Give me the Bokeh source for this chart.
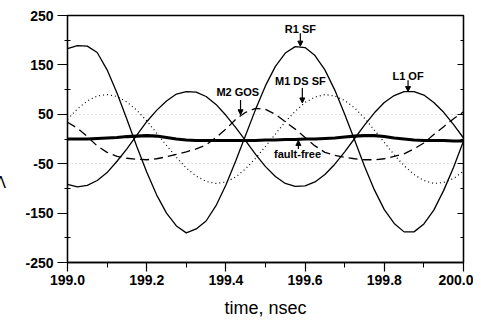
from bokeh.plotting import figure
from bokeh.layouts import row
from bokeh.models import (FixedTicker, Label, Arrow, NormalHead, LinearAxis, Range1d, Div,
                          NumeralTickFormatter, CustomJSTickFormatter, ColumnDataSource)
from bokeh.embed import file_html
from bokeh.resources import INLINE

# ---- data ----
time_ns = [199.000, 199.025, 199.050, 199.075, 199.100, 199.125, 199.150, 199.175, 199.200, 199.225,
           199.250, 199.275, 199.300, 199.325, 199.350, 199.375, 199.400, 199.425, 199.450, 199.475,
           199.500, 199.525, 199.550, 199.575, 199.600, 199.625, 199.650, 199.675, 199.700, 199.725,
           199.750, 199.775, 199.800, 199.825, 199.850, 199.875, 199.900, 199.925, 199.950, 199.975,
           200.000]

r1_sf = [183, 189, 188, 175, 140, 93, 40, -15, -67, -113,
         -150, -176, -190, -182, -166, -135, -93, -44, 8, 60,
         108, 147, 174, 187, 185, 169, 140, 99, 50, -2,
         -55, -103, -143, -171, -188, -188, -172, -144, -104, -57,
         -4]

l1_of = [-92, -97, -94, -84, -68, -45, -20, 8, 35, 58,
         77, 91, 96, 95, 86, 70, 48, 23, -4, -31,
         -56, -76, -90, -96, -95, -87, -72, -51, -26, 1,
         28, 53, 74, 88, 96, 96, 89, 74, 54, 29,
         2]

m1_ds_sf = [40, 61, 77, 87, 90, 86, 75, 58, 37, 12,
            -13, -37, -59, -75, -86, -90, -87, -77, -60, -39,
            -15, 10, 35, 56, 74, 85, 90, 87, 78, 63,
            42, 18, -7, -32, -54, -72, -84, -90, -88, -80,
            -65]

m2_gos = [34, 22, 5, -14, -27, -35, -39, -41, -42, -40,
          -36, -31, -26, -20, -12, 3, 20, 40, 54, 62,
          60, 50, 35, 20, 3, -14, -27, -33, -37, -40,
          -42, -42, -40, -35, -30, -20, -8, 9, 25, 41,
          55]

fault_free = [0, 0, 0, 1, 2, 3, 5, 6, 7, 6,
              3, 0, -2, -3, -3, -3, -3, -3, -3, -3,
              -2, -2, -1, -1, 0, 0, 1, 2, 4, 6,
              7, 7, 5, 2, 0, -2, -3, -3, -3, -4,
              -4]

x_major_ticks = [199.0, 199.2, 199.4, 199.6, 199.8, 200.0]
x_minor_ticks = [199.1, 199.3, 199.5, 199.7, 199.9]
y_major_ticks = [250, 150, 50, -50, -150, -250]
y_minor_ticks = [200, 100, 0, -100, -200]
grid_ticks = [50, -50]

x_title = "time, nsec"
y_title_main, y_title_sub, y_title_unit = "V", "test1(out)", "[mV]"

annotation_texts = ["R1 SF", "M2 GOS", "M1 DS SF", "L1 OF", "fault-free"]
# (text x, text y, arrow x, arrow y start, arrow y end) in data units
annotation_places = [
    (199.588, 222, 199.588, 214, 188),
    (199.430, 95, 199.437, 79, 49),
    (199.588, 118, 199.593, 103, 73),
    (199.860, 127, 199.860, 119, 96),
    (199.581, -30, 199.583, -20, -3),
]

FONT = "Liberation Sans"
H = 322
STRIP_W = 22

src = ColumnDataSource(dict(t=time_ns, r1=r1_sf, l1=l1_of, m1=m1_ds_sf, m2=m2_gos, ff=fault_free))

p = figure(width=473 - STRIP_W, height=H, output_backend="svg", toolbar_location=None,
           x_range=Range1d(199.0, 200.0), y_range=Range1d(-250, 250),
           min_border_left=67 - STRIP_W, min_border_right=10, min_border_top=15,
           min_border_bottom=H - 262)
p.background_fill_color = "white"
p.border_fill_color = "white"
p.outline_line_color = "black"
p.outline_line_width = 1.3

# curves
p.line("t", "r1", source=src, line_color="black", line_width=1.3)
p.line("t", "l1", source=src, line_color="black", line_width=1.3)
p.line("t", "m1", source=src, line_color="black", line_width=1.2, line_dash="1 3")
p.line("t", "m2", source=src, line_color="black", line_width=1.3, line_dash="9 5")
p.line("t", "ff", source=src, line_color="black", line_width=3.2)

# axes
xa = p.xaxis[0]
xa.ticker = FixedTicker(ticks=x_major_ticks, minor_ticks=x_minor_ticks)
xa.formatter = NumeralTickFormatter(format="0.0")
xa.major_tick_out = 9
xa.major_tick_in = 0
xa.minor_tick_out = 5
xa.minor_tick_in = 0
xa.major_label_standoff = 3
xa.axis_label = x_title
xa.axis_label_standoff = 10
xa.axis_label_text_font = FONT
xa.axis_label_text_font_size = "18px"
xa.axis_label_text_font_style = "normal"
xa.axis_label_text_color = "black"

ya = p.yaxis[0]
ya.ticker = FixedTicker(ticks=y_major_ticks, minor_ticks=y_minor_ticks)
ya.formatter = NumeralTickFormatter(format="0")
ya.major_tick_out = 10
ya.major_tick_in = 0
ya.minor_tick_out = 3
ya.minor_tick_in = 3
ya.major_label_standoff = 4

for ax in (xa, ya):
    ax.axis_line_color = "black"
    ax.axis_line_width = 1.3
    ax.major_tick_line_color = "black"
    ax.major_tick_line_width = 1.2
    ax.minor_tick_line_color = "black"
    ax.minor_tick_line_width = 1.0
    ax.major_label_text_font = FONT
    ax.major_label_text_font_size = "14px"
    ax.major_label_text_font_style = "bold"
    ax.major_label_text_color = "black"

ra = LinearAxis(ticker=FixedTicker(ticks=y_major_ticks, minor_ticks=y_minor_ticks),
                formatter=CustomJSTickFormatter(code="return ''"),
                major_tick_in=6, major_tick_out=0, minor_tick_in=3, minor_tick_out=0,
                axis_line_color="black", axis_line_width=1.3,
                major_tick_line_color="black", minor_tick_line_color="black",
                major_label_text_font_size="1px")
p.add_layout(ra, "right")

p.xgrid.visible = False
p.ygrid.ticker = FixedTicker(ticks=grid_ticks)
p.ygrid.grid_line_color = "#c4c4c4"
p.ygrid.grid_line_dash = "1 3"
p.ygrid.grid_line_width = 1

# annotations with arrows
for txt, (tx, ty, ax_, ay0, ay1) in zip(annotation_texts, annotation_places):
    p.add_layout(Label(x=tx, y=ty, text=txt, text_align="center", text_baseline="middle",
                       text_font=FONT, text_font_style="bold", text_font_size="11px",
                       text_color="black"))
    p.add_layout(Arrow(end=NormalHead(size=5, fill_color="black", line_color="black", line_width=1),
                       x_start=ax_, y_start=ay0, x_end=ax_, y_end=ay1,
                       line_color="black", line_width=1.2))

# rotated y-axis title (V with italic subscript) in a narrow HTML strip on the left
title_html = (
    '<div style="position:absolute;left:5.5px;top:190px;'
    '-webkit-transform-origin:0 0;transform-origin:0 0;'
    '-webkit-transform:rotate(-90deg);transform:rotate(-90deg);rotate:-90deg;'
    'white-space:nowrap;font-family:\'Liberation Sans\',Arial,sans-serif;'
    'line-height:1;color:black;">'
    '<span style="font-size:16px;">' + y_title_main + '</span>'
    '<span style="font-size:10px;font-style:italic;vertical-align:-3px;">' + y_title_sub + '</span>'
    '<span style="font-size:17px;margin-left:11px;">' + y_title_unit + '</span>'
    '</div>'
)
strip = Div(text=title_html, width=STRIP_W, height=H, margin=0,
            styles={"overflow": "visible", "position": "relative"})

layout = row(strip, p, spacing=0)
open("out.html", "w").write(file_html(layout, INLINE))
